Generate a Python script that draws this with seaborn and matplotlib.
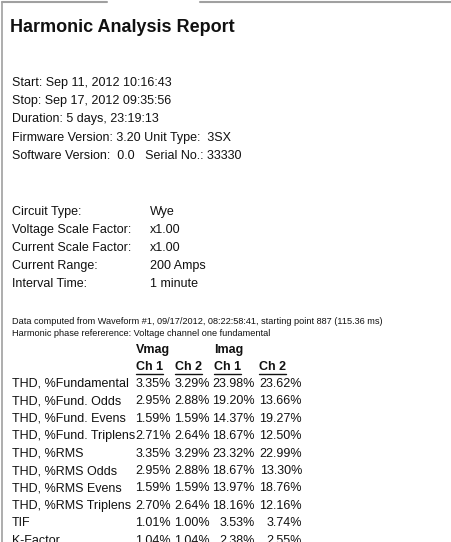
import matplotlib
matplotlib.use("Agg")
import matplotlib.pyplot as plt
import seaborn as sns

sns.set_theme(style="white")
plt.rcParams['font.family'] = ['Liberation Sans', 'DejaVu Sans']

title = "Harmonic Analysis Report"
info_lines = ["Start: Sep 11, 2012 10:16:43", "Stop: Sep 17, 2012 09:35:56",
              "Duration: 5 days, 23:19:13", "Firmware Version: 3.20 Unit Type:  3SX",
              "Software Version:  0.0   Serial No.: 33330"]
setting_names = ["Circuit Type:", "Voltage Scale Factor:", "Current Scale Factor:",
                 "Current Range:", "Interval Time:"]
setting_values = ["Wye", "x1.00", "x1.00", "200 Amps", "1 minute"]
notes = ["Data computed from Waveform #1, 09/17/2012, 08:22:58:41, starting point 887 (115.36 ms)",
         "Harmonic phase refererence: Voltage channel one fundamental"]
groups = ["Vmag", "Imag"]
channels = ["Ch 1", "Ch 2", "Ch 1", "Ch 2"]
rows = ["THD, %Fundamental", "THD, %Fund. Odds", "THD, %Fund. Evens", "THD, %Fund. Triplens",
        "THD, %RMS", "THD, %RMS Odds", "THD, %RMS Evens", "THD, %RMS Triplens", "TIF", "K-Factor"]
v_ch1 = [3.35, 2.95, 1.59, 2.71, 3.35, 2.95, 1.59, 2.70, 1.01, 1.04]
v_ch2 = [3.29, 2.88, 1.59, 2.64, 3.29, 2.88, 1.59, 2.64, 1.00, 1.04]
i_ch1 = [23.98, 19.20, 14.37, 18.67, 23.32, 18.67, 13.97, 18.16, 3.53, 2.38]
i_ch2 = [23.62, 13.66, 19.27, 12.50, 22.99, 13.30, 18.76, 12.16, 3.74, 2.55]

W, H = 451, 542
fig = plt.figure(figsize=(W/100, H/100), dpi=100)
fig.patch.set_facecolor("white")
ax = fig.add_axes([0, 0, 1, 1])
ax.set_xlim(0, W); ax.set_ylim(H, 0); ax.axis("off")

# borders
ax.plot([2, 2], [2, H], color="#a0a0a0", lw=1.2)
ax.plot([2, 107], [1.5, 1.5], color="#a0a0a0", lw=1.5)
ax.plot([200, W], [1.5, 1.5], color="#a0a0a0", lw=1.5)

c = "#111111"
ax.text(10, 27, title, fontsize=13, fontweight="bold", va="center", color=c)
for i, s in enumerate(info_lines):
    ax.text(12, 83 + i*18.2, s, fontsize=9, va="center", color=c)
for i, (n, v) in enumerate(zip(setting_names, setting_values)):
    y = 212 + i*18
    ax.text(12, y, n, fontsize=9, va="center", color=c)
    ax.text(150, y, v, fontsize=9, va="center", color=c)
for i, s in enumerate(notes):
    ax.text(12, 321 + i*12, s, fontsize=6.6, va="center", color=c)

ax.text(136, 350, groups[0], fontsize=9, fontweight="bold", va="center", color=c)
ax.text(214, 350, groups[1], fontsize=9, fontweight="bold", va="center", color=c)
ch_x = [136, 175, 214, 259]
for x, ch in zip(ch_x, channels):
    ax.text(x, 367, ch, fontsize=9, fontweight="bold", va="center", color=c)
    ax.plot([x, x+27], [374, 374], color=c, lw=1)
right_x = [171, 210, 255, 302]
cols = [v_ch1, v_ch2, i_ch1, i_ch2]
for r, name in enumerate(rows):
    y = 384 + r*17.4
    ax.text(12, y, name, fontsize=9, va="center", color=c)
    for x, col in zip(right_x, cols):
        ax.text(x, y, f"{col[r]:.2f}%", fontsize=9, va="center", ha="right", color=c)

fig.savefig("out.png", dpi=100, facecolor="white")
